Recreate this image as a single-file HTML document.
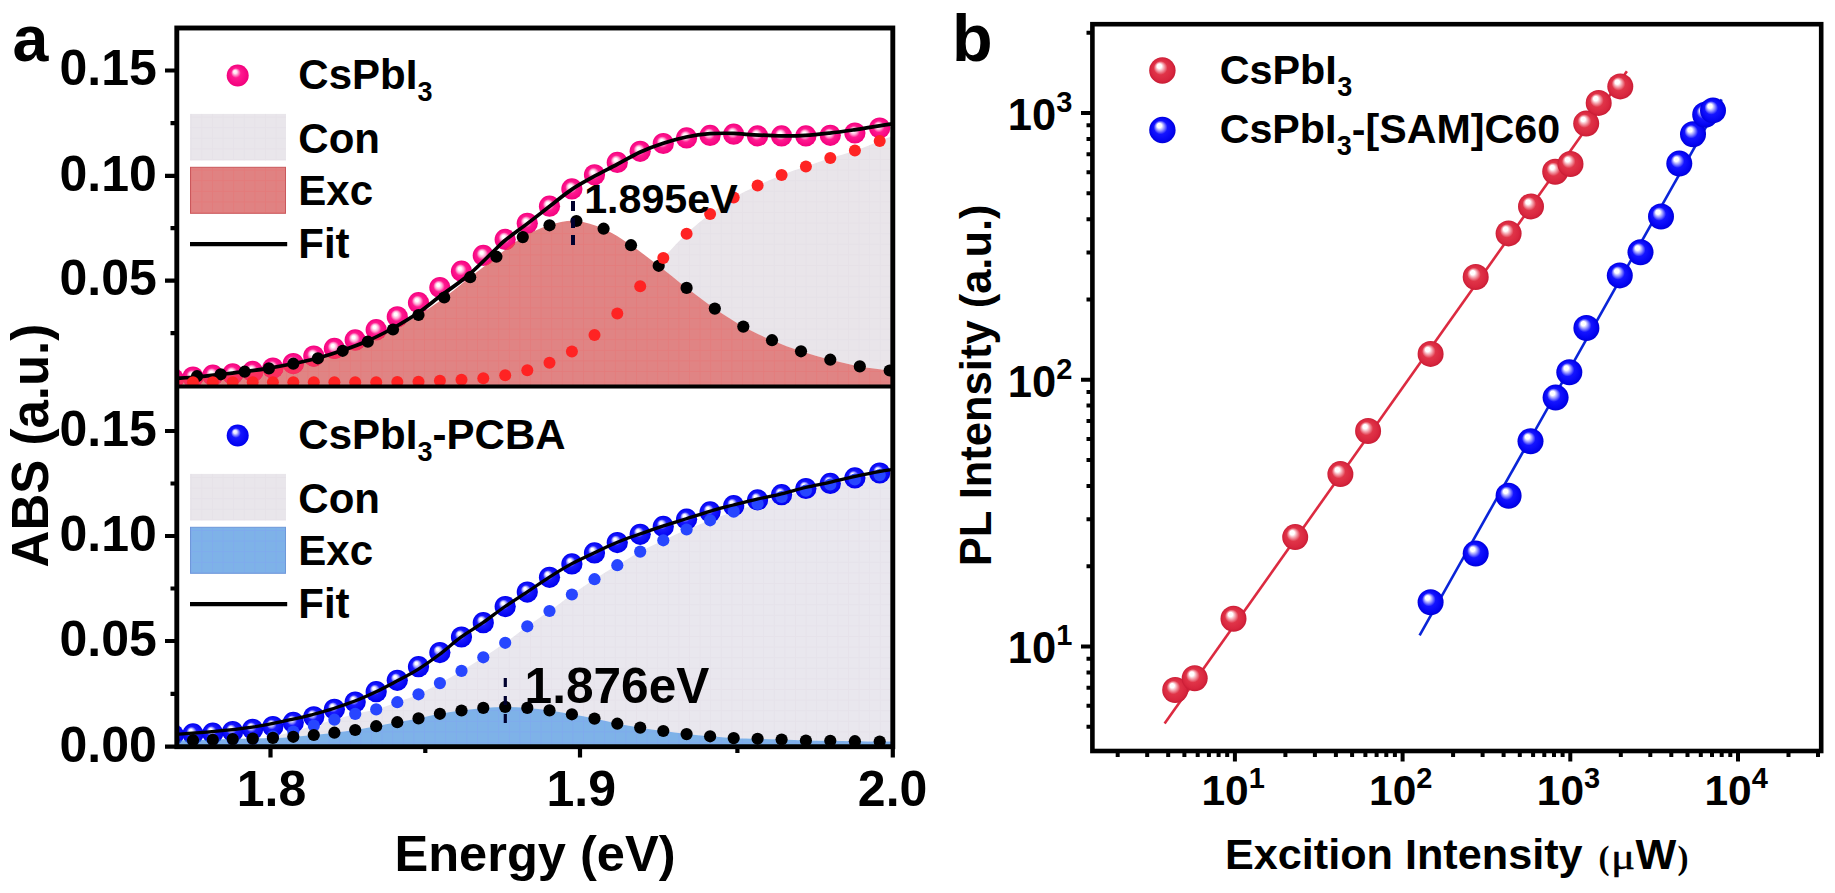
<!DOCTYPE html>
<html lang="en"><head><meta charset="utf-8"><title>Figure</title>
<style>html,body{margin:0;padding:0;background:#fff}body{width:1835px;height:893px;overflow:hidden}</style></head>
<body>
<svg width="1835" height="893" viewBox="0 0 1835 893" style="display:block;font-family:'Liberation Sans', sans-serif;font-weight:bold">
<defs>
<radialGradient id="gPinkD" cx="0.5" cy="0.5" r="0.5" fx="0.41" fy="0.36"><stop offset="0" stop-color="#fff"/><stop offset="0.14" stop-color="#fff"/><stop offset="0.34" stop-color="#ffa6d3"/><stop offset="0.54" stop-color="#ff1a90"/><stop offset="1" stop-color="#f4007e"/></radialGradient>
<radialGradient id="gPinkL" cx="0.5" cy="0.5" r="0.5" fx="0.36" fy="0.30"><stop offset="0" stop-color="#fff"/><stop offset="0.16" stop-color="#ffe4f1"/><stop offset="0.44" stop-color="#ff1a90"/><stop offset="1" stop-color="#f2007c"/></radialGradient>
<radialGradient id="gBlueD" cx="0.5" cy="0.5" r="0.5" fx="0.38" fy="0.32"><stop offset="0" stop-color="#fff"/><stop offset="0.12" stop-color="#fff"/><stop offset="0.30" stop-color="#a0a0ff"/><stop offset="0.48" stop-color="#1a1aff"/><stop offset="1" stop-color="#0000ee"/></radialGradient>
<radialGradient id="gBlueL" cx="0.5" cy="0.5" r="0.5" fx="0.36" fy="0.30"><stop offset="0" stop-color="#fff"/><stop offset="0.16" stop-color="#e2e2ff"/><stop offset="0.44" stop-color="#1616ff"/><stop offset="1" stop-color="#0000ee"/></radialGradient>
<radialGradient id="gRedB" cx="0.5" cy="0.5" r="0.5" fx="0.36" fy="0.30"><stop offset="0" stop-color="#fff"/><stop offset="0.17" stop-color="#fff"/><stop offset="0.32" stop-color="#f4a3ad"/><stop offset="0.52" stop-color="#e03448"/><stop offset="0.85" stop-color="#d8263e"/><stop offset="1" stop-color="#c81c34"/></radialGradient>
<radialGradient id="gBluB" cx="0.5" cy="0.5" r="0.5" fx="0.36" fy="0.30"><stop offset="0" stop-color="#fff"/><stop offset="0.17" stop-color="#fff"/><stop offset="0.32" stop-color="#9a9aff"/><stop offset="0.52" stop-color="#1414ff"/><stop offset="0.85" stop-color="#0404f2"/><stop offset="1" stop-color="#0000d8"/></radialGradient>
<pattern id="hR" width="10.6" height="10.6" patternUnits="userSpaceOnUse"><path d="M0 0.5H10.6M0.5 0V10.6" stroke="#f24b4b" stroke-width="1" opacity="0.14"/></pattern>
<pattern id="hG" width="10.6" height="10.6" patternUnits="userSpaceOnUse"><path d="M0 0.5H10.6M0.5 0V10.6" stroke="#dcd6e0" stroke-width="1" opacity="0.3"/></pattern>
<pattern id="hB" width="10.6" height="10.6" patternUnits="userSpaceOnUse"><path d="M0 0.5H10.6M0.5 0V10.6" stroke="#7f8cff" stroke-width="1" opacity="0.2"/></pattern>
<clipPath id="cTop"><rect x="176.8" y="28.0" width="716.0" height="358.5"/></clipPath>
<clipPath id="cBot"><rect x="176.8" y="386.5" width="716.0" height="360.2"/></clipPath>
</defs>
<rect width="1835" height="893" fill="#fff"/>
<g clip-path="url(#cTop)">
<path d="M170.0 382.3C190.5 382.3 258.5 382.3 292.8 382.3C327.1 382.3 357.7 382.3 375.6 382.2C393.5 382.1 392.9 382.0 400.0 381.9C407.1 381.8 411.7 381.9 418.3 381.7C424.9 381.5 432.5 381.1 439.6 380.8C446.8 380.5 454.0 380.2 461.2 379.8C468.4 379.4 475.7 379.0 483.0 378.2C490.3 377.4 497.7 376.5 505.0 375.2C512.3 373.9 519.5 372.5 526.9 370.4C534.3 368.3 542.0 365.9 549.5 362.8C557.0 359.7 564.2 356.3 571.7 351.7C579.2 347.1 586.6 341.6 594.2 335.3C601.8 329.0 609.4 321.9 617.1 313.7C624.8 305.4 632.8 295.1 640.5 285.8C648.2 276.5 655.7 266.6 663.4 257.9C671.1 249.2 679.1 240.8 686.9 233.4C694.7 226.1 702.6 219.8 710.4 213.8C718.2 207.8 726.1 202.1 733.9 197.4C741.7 192.7 749.4 189.4 757.4 185.7C765.4 181.9 773.5 178.1 781.6 174.9C789.7 171.7 798.0 169.3 806.1 166.5C814.2 163.7 822.1 160.8 830.3 158.1C838.5 155.4 847.2 153.2 855.5 150.4C863.8 147.6 872.6 143.9 880.0 141.0C887.4 138.1 896.7 134.3 900.0 133.0L900.0 386.5 L170.0 386.5 Z" fill="#e9e5ea"/><path d="M170.0 382.3C190.5 382.3 258.5 382.3 292.8 382.3C327.1 382.3 357.7 382.3 375.6 382.2C393.5 382.1 392.9 382.0 400.0 381.9C407.1 381.8 411.7 381.9 418.3 381.7C424.9 381.5 432.5 381.1 439.6 380.8C446.8 380.5 454.0 380.2 461.2 379.8C468.4 379.4 475.7 379.0 483.0 378.2C490.3 377.4 497.7 376.5 505.0 375.2C512.3 373.9 519.5 372.5 526.9 370.4C534.3 368.3 542.0 365.9 549.5 362.8C557.0 359.7 564.2 356.3 571.7 351.7C579.2 347.1 586.6 341.6 594.2 335.3C601.8 329.0 609.4 321.9 617.1 313.7C624.8 305.4 632.8 295.1 640.5 285.8C648.2 276.5 655.7 266.6 663.4 257.9C671.1 249.2 679.1 240.8 686.9 233.4C694.7 226.1 702.6 219.8 710.4 213.8C718.2 207.8 726.1 202.1 733.9 197.4C741.7 192.7 749.4 189.4 757.4 185.7C765.4 181.9 773.5 178.1 781.6 174.9C789.7 171.7 798.0 169.3 806.1 166.5C814.2 163.7 822.1 160.8 830.3 158.1C838.5 155.4 847.2 153.2 855.5 150.4C863.8 147.6 872.6 143.9 880.0 141.0C887.4 138.1 896.7 134.3 900.0 133.0L900.0 386.5 L170.0 386.5 Z" fill="url(#hG)"/>
<path d="M170.0 378.2C174.4 377.9 188.3 376.8 196.7 376.2C205.1 375.6 212.5 375.0 220.4 374.3C228.3 373.6 236.3 372.8 244.2 371.8C252.1 370.9 259.9 369.9 268.0 368.6C276.1 367.3 284.6 365.5 292.8 363.8C301.0 362.1 308.9 360.6 317.2 358.5C325.4 356.4 333.9 353.7 342.3 350.9C350.7 348.1 359.0 345.4 367.4 341.9C375.8 338.4 384.0 334.3 392.4 329.9C400.8 325.5 408.9 321.0 417.5 315.7C426.1 310.4 435.1 304.2 443.8 297.9C452.5 291.6 460.8 284.6 469.5 277.8C478.2 271.0 487.2 263.7 496.1 256.9C505.0 250.1 514.1 242.3 523.0 237.0C531.9 231.7 540.4 228.0 549.2 225.3C558.0 222.6 566.9 220.3 576.0 220.9C585.1 221.5 594.5 224.7 603.6 228.7C612.7 232.7 621.6 238.9 630.8 245.1C640.0 251.3 649.6 258.8 659.0 266.0C668.4 273.2 677.6 281.0 686.9 288.1C696.2 295.2 705.6 302.3 714.8 308.6C724.0 314.9 732.5 320.7 742.0 326.0C751.5 331.3 762.0 336.0 771.9 340.2C781.8 344.4 791.4 348.1 801.1 351.3C810.8 354.6 820.5 357.2 830.3 359.7C840.1 362.2 850.1 364.6 859.9 366.4C869.7 368.2 882.4 369.5 889.1 370.4C895.8 371.2 898.2 371.3 900.0 371.5L900.0 386.5 L170.0 386.5 Z" fill="#fff"/>
<circle cx="173.4" cy="378.7" r="10.6" fill="url(#gPinkD)"/>
<circle cx="193.0" cy="377.1" r="10.6" fill="url(#gPinkD)"/>
<circle cx="212.8" cy="375.2" r="10.6" fill="url(#gPinkD)"/>
<circle cx="232.7" cy="373.9" r="10.6" fill="url(#gPinkD)"/>
<circle cx="252.7" cy="371.4" r="10.6" fill="url(#gPinkD)"/>
<circle cx="272.9" cy="368.1" r="10.6" fill="url(#gPinkD)"/>
<circle cx="293.3" cy="363.6" r="10.6" fill="url(#gPinkD)"/>
<circle cx="313.8" cy="356.1" r="10.6" fill="url(#gPinkD)"/>
<circle cx="334.4" cy="348.4" r="10.6" fill="url(#gPinkD)"/>
<circle cx="355.2" cy="339.9" r="10.6" fill="url(#gPinkD)"/>
<circle cx="376.2" cy="329.7" r="10.6" fill="url(#gPinkD)"/>
<circle cx="397.3" cy="316.8" r="10.6" fill="url(#gPinkD)"/>
<circle cx="418.5" cy="302.7" r="10.6" fill="url(#gPinkD)"/>
<circle cx="439.9" cy="287.6" r="10.6" fill="url(#gPinkD)"/>
<circle cx="461.5" cy="271.2" r="10.6" fill="url(#gPinkD)"/>
<circle cx="483.3" cy="255.4" r="10.6" fill="url(#gPinkD)"/>
<circle cx="505.2" cy="239.4" r="10.6" fill="url(#gPinkD)"/>
<circle cx="527.3" cy="223.3" r="10.6" fill="url(#gPinkD)"/>
<circle cx="549.5" cy="206.2" r="10.6" fill="url(#gPinkD)"/>
<circle cx="571.9" cy="188.9" r="10.6" fill="url(#gPinkD)"/>
<circle cx="594.5" cy="174.8" r="10.6" fill="url(#gPinkD)"/>
<circle cx="617.3" cy="162.4" r="10.6" fill="url(#gPinkD)"/>
<circle cx="640.2" cy="151.3" r="10.6" fill="url(#gPinkD)"/>
<circle cx="663.3" cy="143.5" r="10.6" fill="url(#gPinkD)"/>
<circle cx="686.6" cy="137.9" r="10.6" fill="url(#gPinkD)"/>
<circle cx="710.1" cy="135.4" r="10.6" fill="url(#gPinkD)"/>
<circle cx="733.7" cy="134.2" r="10.6" fill="url(#gPinkD)"/>
<circle cx="757.6" cy="135.9" r="10.6" fill="url(#gPinkD)"/>
<circle cx="781.6" cy="135.9" r="10.6" fill="url(#gPinkD)"/>
<circle cx="805.9" cy="135.9" r="10.6" fill="url(#gPinkD)"/>
<circle cx="830.3" cy="135.3" r="10.6" fill="url(#gPinkD)"/>
<circle cx="854.9" cy="133.0" r="10.6" fill="url(#gPinkD)"/>
<circle cx="879.7" cy="128.1" r="10.6" fill="url(#gPinkD)"/>
<path d="M170.0 378.2C174.4 377.9 188.3 376.8 196.7 376.2C205.1 375.6 212.5 375.0 220.4 374.3C228.3 373.6 236.3 372.8 244.2 371.8C252.1 370.9 259.9 369.9 268.0 368.6C276.1 367.3 284.6 365.5 292.8 363.8C301.0 362.1 308.9 360.6 317.2 358.5C325.4 356.4 333.9 353.7 342.3 350.9C350.7 348.1 359.0 345.4 367.4 341.9C375.8 338.4 384.0 334.3 392.4 329.9C400.8 325.5 408.9 321.0 417.5 315.7C426.1 310.4 435.1 304.2 443.8 297.9C452.5 291.6 460.8 284.6 469.5 277.8C478.2 271.0 487.2 263.7 496.1 256.9C505.0 250.1 514.1 242.3 523.0 237.0C531.9 231.7 540.4 228.0 549.2 225.3C558.0 222.6 566.9 220.3 576.0 220.9C585.1 221.5 594.5 224.7 603.6 228.7C612.7 232.7 621.6 238.9 630.8 245.1C640.0 251.3 649.6 258.8 659.0 266.0C668.4 273.2 677.6 281.0 686.9 288.1C696.2 295.2 705.6 302.3 714.8 308.6C724.0 314.9 732.5 320.7 742.0 326.0C751.5 331.3 762.0 336.0 771.9 340.2C781.8 344.4 791.4 348.1 801.1 351.3C810.8 354.6 820.5 357.2 830.3 359.7C840.1 362.2 850.1 364.6 859.9 366.4C869.7 368.2 882.4 369.5 889.1 370.4C895.8 371.2 898.2 371.3 900.0 371.5L900.0 386.5 L170.0 386.5 Z" fill="#cb3232" fill-opacity="0.60"/><path d="M170.0 378.2C174.4 377.9 188.3 376.8 196.7 376.2C205.1 375.6 212.5 375.0 220.4 374.3C228.3 373.6 236.3 372.8 244.2 371.8C252.1 370.9 259.9 369.9 268.0 368.6C276.1 367.3 284.6 365.5 292.8 363.8C301.0 362.1 308.9 360.6 317.2 358.5C325.4 356.4 333.9 353.7 342.3 350.9C350.7 348.1 359.0 345.4 367.4 341.9C375.8 338.4 384.0 334.3 392.4 329.9C400.8 325.5 408.9 321.0 417.5 315.7C426.1 310.4 435.1 304.2 443.8 297.9C452.5 291.6 460.8 284.6 469.5 277.8C478.2 271.0 487.2 263.7 496.1 256.9C505.0 250.1 514.1 242.3 523.0 237.0C531.9 231.7 540.4 228.0 549.2 225.3C558.0 222.6 566.9 220.3 576.0 220.9C585.1 221.5 594.5 224.7 603.6 228.7C612.7 232.7 621.6 238.9 630.8 245.1C640.0 251.3 649.6 258.8 659.0 266.0C668.4 273.2 677.6 281.0 686.9 288.1C696.2 295.2 705.6 302.3 714.8 308.6C724.0 314.9 732.5 320.7 742.0 326.0C751.5 331.3 762.0 336.0 771.9 340.2C781.8 344.4 791.4 348.1 801.1 351.3C810.8 354.6 820.5 357.2 830.3 359.7C840.1 362.2 850.1 364.6 859.9 366.4C869.7 368.2 882.4 369.5 889.1 370.4C895.8 371.2 898.2 371.3 900.0 371.5L900.0 386.5 L170.0 386.5 Z" fill="url(#hR)"/>
<clipPath id="cExcT"><path d="M170.0 378.2C174.4 377.9 188.3 376.8 196.7 376.2C205.1 375.6 212.5 375.0 220.4 374.3C228.3 373.6 236.3 372.8 244.2 371.8C252.1 370.9 259.9 369.9 268.0 368.6C276.1 367.3 284.6 365.5 292.8 363.8C301.0 362.1 308.9 360.6 317.2 358.5C325.4 356.4 333.9 353.7 342.3 350.9C350.7 348.1 359.0 345.4 367.4 341.9C375.8 338.4 384.0 334.3 392.4 329.9C400.8 325.5 408.9 321.0 417.5 315.7C426.1 310.4 435.1 304.2 443.8 297.9C452.5 291.6 460.8 284.6 469.5 277.8C478.2 271.0 487.2 263.7 496.1 256.9C505.0 250.1 514.1 242.3 523.0 237.0C531.9 231.7 540.4 228.0 549.2 225.3C558.0 222.6 566.9 220.3 576.0 220.9C585.1 221.5 594.5 224.7 603.6 228.7C612.7 232.7 621.6 238.9 630.8 245.1C640.0 251.3 649.6 258.8 659.0 266.0C668.4 273.2 677.6 281.0 686.9 288.1C696.2 295.2 705.6 302.3 714.8 308.6C724.0 314.9 732.5 320.7 742.0 326.0C751.5 331.3 762.0 336.0 771.9 340.2C781.8 344.4 791.4 348.1 801.1 351.3C810.8 354.6 820.5 357.2 830.3 359.7C840.1 362.2 850.1 364.6 859.9 366.4C869.7 368.2 882.4 369.5 889.1 370.4C895.8 371.2 898.2 371.3 900.0 371.5L900.0 386.5 L170.0 386.5 Z"/></clipPath><g clip-path="url(#cExcT)">
<circle cx="173.4" cy="378.7" r="10.6" fill="#ff3060" fill-opacity="0.85"/>
<circle cx="193.0" cy="377.1" r="10.6" fill="#ff3060" fill-opacity="0.85"/>
<circle cx="212.8" cy="375.2" r="10.6" fill="#ff3060" fill-opacity="0.85"/>
<circle cx="232.7" cy="373.9" r="10.6" fill="#ff3060" fill-opacity="0.85"/>
<circle cx="252.7" cy="371.4" r="10.6" fill="#ff3060" fill-opacity="0.85"/>
<circle cx="272.9" cy="368.1" r="10.6" fill="#ff3060" fill-opacity="0.85"/>
<circle cx="293.3" cy="363.6" r="10.6" fill="#ff3060" fill-opacity="0.85"/>
<circle cx="313.8" cy="356.1" r="10.6" fill="#ff3060" fill-opacity="0.85"/>
<circle cx="334.4" cy="348.4" r="10.6" fill="#ff3060" fill-opacity="0.85"/>
<circle cx="355.2" cy="339.9" r="10.6" fill="#ff3060" fill-opacity="0.85"/>
<circle cx="376.2" cy="329.7" r="10.6" fill="#ff3060" fill-opacity="0.85"/>
<circle cx="397.3" cy="316.8" r="10.6" fill="#ff3060" fill-opacity="0.85"/>
<circle cx="418.5" cy="302.7" r="10.6" fill="#ff3060" fill-opacity="0.85"/>
<circle cx="439.9" cy="287.6" r="10.6" fill="#ff3060" fill-opacity="0.85"/>
<circle cx="461.5" cy="271.2" r="10.6" fill="#ff3060" fill-opacity="0.85"/>
<circle cx="483.3" cy="255.4" r="10.6" fill="#ff3060" fill-opacity="0.85"/>
<circle cx="505.2" cy="239.4" r="10.6" fill="#ff3060" fill-opacity="0.85"/>
</g>
<path d="M174.0 378.6C177.7 378.3 188.7 377.7 196.3 377.0C203.9 376.3 211.8 375.4 219.8 374.5C227.8 373.6 236.4 372.7 244.4 371.7C252.4 370.7 259.9 369.6 267.9 368.3C275.9 367.0 284.4 365.5 292.6 363.8C300.8 362.1 308.9 360.4 317.2 358.2C325.5 356.0 333.9 353.4 342.3 350.5C350.7 347.6 359.0 344.7 367.4 341.0C375.8 337.3 384.0 333.1 392.4 328.5C400.8 323.9 409.6 318.7 417.5 313.3C425.4 307.9 431.6 302.6 440.0 296.3C448.4 290.0 458.9 283.2 468.0 275.5C477.1 267.8 488.7 255.8 494.8 250.0C500.9 244.2 499.5 244.9 504.9 240.5C510.3 236.1 519.8 229.3 527.3 223.6C534.8 217.9 542.3 212.0 549.7 206.3C557.1 200.6 564.0 194.6 571.5 189.6C579.0 184.6 586.9 180.4 594.5 176.2C602.1 172.0 609.4 168.5 616.9 164.5C624.4 160.5 632.1 155.8 639.8 152.2C647.5 148.6 655.5 145.7 663.3 143.2C671.0 140.7 678.5 138.6 686.3 137.0C694.0 135.4 701.9 134.3 709.8 133.7C717.7 133.1 727.2 133.2 733.9 133.4C740.6 133.6 742.1 134.2 750.0 134.6C757.9 135.0 772.1 135.8 781.4 135.9C790.6 136.0 797.5 135.9 805.5 135.4C813.5 134.9 821.5 134.0 829.6 133.1C837.7 132.2 845.9 131.0 854.2 129.8C862.5 128.6 872.6 126.9 879.4 125.8C886.2 124.7 892.4 123.8 895.0 123.4" fill="none" stroke="#000" stroke-width="3.7"/>
<circle cx="889.7" cy="370.5" r="6.1" fill="#000"/>
<circle cx="859.8" cy="366.4" r="6.1" fill="#000"/>
<circle cx="830.3" cy="359.7" r="6.1" fill="#000"/>
<circle cx="801.0" cy="351.3" r="6.1" fill="#000"/>
<circle cx="772.0" cy="340.2" r="6.1" fill="#000"/>
<circle cx="743.3" cy="326.6" r="6.1" fill="#000"/>
<circle cx="714.8" cy="308.6" r="6.1" fill="#000"/>
<circle cx="686.6" cy="287.9" r="6.1" fill="#000"/>
<circle cx="658.7" cy="265.8" r="6.1" fill="#000"/>
<circle cx="631.0" cy="245.2" r="6.1" fill="#000"/>
<circle cx="603.6" cy="228.7" r="6.1" fill="#000"/>
<circle cx="576.4" cy="221.0" r="6.1" fill="#000"/>
<circle cx="549.5" cy="225.3" r="6.1" fill="#000"/>
<circle cx="522.8" cy="237.1" r="6.1" fill="#000"/>
<circle cx="496.4" cy="256.7" r="6.1" fill="#000"/>
<circle cx="470.2" cy="277.2" r="6.1" fill="#000"/>
<circle cx="444.2" cy="297.5" r="6.1" fill="#000"/>
<circle cx="418.5" cy="315.0" r="6.1" fill="#000"/>
<circle cx="393.0" cy="329.5" r="6.1" fill="#000"/>
<circle cx="367.8" cy="341.7" r="6.1" fill="#000"/>
<circle cx="342.7" cy="350.8" r="6.1" fill="#000"/>
<circle cx="317.9" cy="358.3" r="6.1" fill="#000"/>
<circle cx="293.3" cy="363.7" r="6.1" fill="#000"/>
<circle cx="268.9" cy="368.4" r="6.1" fill="#000"/>
<circle cx="244.7" cy="371.7" r="6.1" fill="#000"/>
<circle cx="220.7" cy="374.3" r="6.1" fill="#000"/>
<circle cx="197.0" cy="376.2" r="6.1" fill="#000"/>
<circle cx="173.4" cy="377.9" r="6.1" fill="#000"/>
<circle cx="879.7" cy="141.1" r="6" fill="#ff2323"/>
<circle cx="854.9" cy="150.6" r="6" fill="#ff2323"/>
<circle cx="830.3" cy="158.1" r="6" fill="#ff2323"/>
<circle cx="805.9" cy="166.6" r="6" fill="#ff2323"/>
<circle cx="781.6" cy="174.9" r="6" fill="#ff2323"/>
<circle cx="757.6" cy="185.6" r="6" fill="#ff2323"/>
<circle cx="733.7" cy="197.5" r="6" fill="#ff2323"/>
<circle cx="710.1" cy="214.1" r="6" fill="#ff2323"/>
<circle cx="686.6" cy="233.7" r="6" fill="#ff2323"/>
<circle cx="663.3" cy="258.0" r="6" fill="#ff2323"/>
<circle cx="640.2" cy="286.2" r="6" fill="#ff2323"/>
<circle cx="617.3" cy="313.5" r="6" fill="#ff2323"/>
<circle cx="594.5" cy="335.0" r="6" fill="#ff2323"/>
<circle cx="571.9" cy="351.5" r="6" fill="#ff2323"/>
<circle cx="549.5" cy="362.8" r="6" fill="#ff2323"/>
<circle cx="527.3" cy="370.3" r="6" fill="#ff2323"/>
<circle cx="505.2" cy="375.2" r="6" fill="#ff2323"/>
<circle cx="483.3" cy="378.2" r="6" fill="#ff2323"/>
<circle cx="461.5" cy="379.8" r="6" fill="#ff2323"/>
<circle cx="439.9" cy="380.8" r="6" fill="#ff2323"/>
<circle cx="418.5" cy="381.7" r="6" fill="#ff2323"/>
<circle cx="397.3" cy="381.9" r="6" fill="#ff2323"/>
<circle cx="376.2" cy="382.2" r="6" fill="#ff2323"/>
<circle cx="355.2" cy="382.2" r="6" fill="#ff2323"/>
<circle cx="334.4" cy="382.2" r="6" fill="#ff2323"/>
<circle cx="313.8" cy="382.3" r="6" fill="#ff2323"/>
<circle cx="293.3" cy="382.3" r="6" fill="#ff2323"/>
<circle cx="272.9" cy="382.3" r="6" fill="#ff2323"/>
<circle cx="252.7" cy="382.3" r="6" fill="#ff2323"/>
<circle cx="232.7" cy="382.3" r="6" fill="#ff2323"/>
<circle cx="212.8" cy="382.3" r="6" fill="#ff2323"/>
<circle cx="193.0" cy="382.3" r="6" fill="#ff2323"/>
<circle cx="173.4" cy="382.3" r="6" fill="#ff2323"/>
</g>
<path d="M573 201V249" stroke="#00002e" stroke-width="4" stroke-dasharray="10 7" fill="none"/>
<text x="584.2" y="213.3" font-size="41.2">1.895eV</text>
<g clip-path="url(#cBot)">
<path d="M170.0 741.0C183.6 740.7 234.7 739.8 251.7 739.0C268.7 738.2 265.2 737.7 271.9 736.5C278.6 735.3 285.3 733.8 292.0 732.0C298.7 730.2 305.3 728.0 312.2 726.0C319.1 724.0 326.3 722.0 333.4 720.0C340.5 718.0 347.6 715.8 354.7 714.0C361.8 712.2 368.9 711.5 376.0 709.5C383.1 707.5 390.1 704.7 397.2 702.2C404.3 699.7 411.4 697.5 418.5 694.3C425.6 691.1 432.7 687.1 439.8 683.2C446.9 679.4 453.8 675.5 461.0 671.2C468.2 666.9 475.7 662.2 483.0 657.5C490.3 652.8 497.4 648.3 504.8 643.1C512.2 637.9 519.9 631.6 527.3 626.3C534.7 621.0 541.8 616.5 549.2 611.2C556.7 605.9 564.5 599.7 572.0 594.4C579.5 589.1 586.9 584.1 594.5 579.2C602.1 574.3 609.7 569.7 617.4 565.1C625.1 560.5 632.8 555.5 640.5 551.4C648.2 547.3 655.7 544.0 663.4 540.3C671.1 536.6 679.1 532.8 686.9 529.4C694.7 526.0 702.6 523.2 710.4 520.2C718.2 517.2 726.1 514.2 733.9 511.5C741.7 508.8 749.4 506.4 757.4 504.0C765.4 501.6 773.5 499.2 781.6 497.0C789.7 494.8 798.0 492.6 806.1 490.5C814.2 488.4 822.2 486.3 830.3 484.5C838.4 482.7 846.5 481.1 854.8 479.5C863.1 477.9 872.5 476.2 880.0 475.0C887.5 473.8 896.7 472.5 900.0 472.0L900.0 746.7 L170.0 746.7 Z" fill="#e9e7ee"/><path d="M170.0 741.0C183.6 740.7 234.7 739.8 251.7 739.0C268.7 738.2 265.2 737.7 271.9 736.5C278.6 735.3 285.3 733.8 292.0 732.0C298.7 730.2 305.3 728.0 312.2 726.0C319.1 724.0 326.3 722.0 333.4 720.0C340.5 718.0 347.6 715.8 354.7 714.0C361.8 712.2 368.9 711.5 376.0 709.5C383.1 707.5 390.1 704.7 397.2 702.2C404.3 699.7 411.4 697.5 418.5 694.3C425.6 691.1 432.7 687.1 439.8 683.2C446.9 679.4 453.8 675.5 461.0 671.2C468.2 666.9 475.7 662.2 483.0 657.5C490.3 652.8 497.4 648.3 504.8 643.1C512.2 637.9 519.9 631.6 527.3 626.3C534.7 621.0 541.8 616.5 549.2 611.2C556.7 605.9 564.5 599.7 572.0 594.4C579.5 589.1 586.9 584.1 594.5 579.2C602.1 574.3 609.7 569.7 617.4 565.1C625.1 560.5 632.8 555.5 640.5 551.4C648.2 547.3 655.7 544.0 663.4 540.3C671.1 536.6 679.1 532.8 686.9 529.4C694.7 526.0 702.6 523.2 710.4 520.2C718.2 517.2 726.1 514.2 733.9 511.5C741.7 508.8 749.4 506.4 757.4 504.0C765.4 501.6 773.5 499.2 781.6 497.0C789.7 494.8 798.0 492.6 806.1 490.5C814.2 488.4 822.2 486.3 830.3 484.5C838.4 482.7 846.5 481.1 854.8 479.5C863.1 477.9 872.5 476.2 880.0 475.0C887.5 473.8 896.7 472.5 900.0 472.0L900.0 746.7 L170.0 746.7 Z" fill="url(#hG)"/>
<path d="M170.0 740.6C173.7 740.5 185.3 740.3 192.4 740.2C199.5 740.1 206.0 740.0 212.5 739.8C219.0 739.6 225.1 739.3 231.6 739.1C238.1 738.9 245.0 738.8 251.7 738.6C258.4 738.4 265.1 738.3 271.9 738.0C278.7 737.7 285.8 737.4 292.7 736.9C299.6 736.4 306.4 735.8 313.3 735.1C320.2 734.4 327.0 733.6 333.9 732.8C340.8 732.0 347.8 731.2 354.7 730.1C361.6 729.0 368.5 727.6 375.5 726.3C382.5 725.0 389.7 723.6 396.8 722.3C403.9 721.0 410.8 719.9 418.0 718.5C425.2 717.1 432.6 715.1 439.8 713.8C447.0 712.5 453.8 711.6 461.0 710.6C468.2 709.6 475.7 708.5 483.0 707.9C490.3 707.3 497.4 706.9 504.8 706.9C512.2 706.9 519.9 707.3 527.3 707.9C534.7 708.5 541.8 709.2 549.2 710.3C556.7 711.4 564.5 712.9 572.0 714.3C579.5 715.7 586.9 717.0 594.5 718.6C602.1 720.2 609.7 722.2 617.4 723.7C625.1 725.2 632.9 726.5 640.5 727.7C648.1 728.9 655.5 729.9 663.2 731.0C670.9 732.1 678.8 733.2 686.6 734.1C694.4 735.0 702.0 735.6 710.0 736.3C718.0 737.0 726.6 737.8 734.5 738.2C742.4 738.6 749.5 738.6 757.4 738.8C765.2 739.0 773.5 739.2 781.6 739.5C789.7 739.8 798.0 740.3 806.1 740.5C814.2 740.7 822.2 740.7 830.3 740.8C838.4 740.9 846.5 741.1 854.8 741.2C863.1 741.3 872.5 741.4 880.0 741.5C887.5 741.6 896.7 741.7 900.0 741.7L900.0 746.7 L170.0 746.7 Z" fill="#fff"/>
<circle cx="173.4" cy="734.8" r="10.6" fill="url(#gBlueD)"/>
<circle cx="193.0" cy="733.9" r="10.6" fill="url(#gBlueD)"/>
<circle cx="212.8" cy="733.2" r="10.6" fill="url(#gBlueD)"/>
<circle cx="232.7" cy="731.5" r="10.6" fill="url(#gBlueD)"/>
<circle cx="252.7" cy="729.3" r="10.6" fill="url(#gBlueD)"/>
<circle cx="272.9" cy="726.5" r="10.6" fill="url(#gBlueD)"/>
<circle cx="293.3" cy="722.4" r="10.6" fill="url(#gBlueD)"/>
<circle cx="313.8" cy="716.8" r="10.6" fill="url(#gBlueD)"/>
<circle cx="334.4" cy="709.3" r="10.6" fill="url(#gBlueD)"/>
<circle cx="355.2" cy="702.1" r="10.6" fill="url(#gBlueD)"/>
<circle cx="376.2" cy="691.7" r="10.6" fill="url(#gBlueD)"/>
<circle cx="397.3" cy="680.3" r="10.6" fill="url(#gBlueD)"/>
<circle cx="418.5" cy="666.7" r="10.6" fill="url(#gBlueD)"/>
<circle cx="439.9" cy="652.6" r="10.6" fill="url(#gBlueD)"/>
<circle cx="461.5" cy="637.0" r="10.6" fill="url(#gBlueD)"/>
<circle cx="483.3" cy="622.7" r="10.6" fill="url(#gBlueD)"/>
<circle cx="505.2" cy="606.6" r="10.6" fill="url(#gBlueD)"/>
<circle cx="527.3" cy="592.1" r="10.6" fill="url(#gBlueD)"/>
<circle cx="549.5" cy="577.3" r="10.6" fill="url(#gBlueD)"/>
<circle cx="571.9" cy="563.9" r="10.6" fill="url(#gBlueD)"/>
<circle cx="594.5" cy="552.9" r="10.6" fill="url(#gBlueD)"/>
<circle cx="617.3" cy="542.6" r="10.6" fill="url(#gBlueD)"/>
<circle cx="640.2" cy="534.3" r="10.6" fill="url(#gBlueD)"/>
<circle cx="663.3" cy="526.4" r="10.6" fill="url(#gBlueD)"/>
<circle cx="686.6" cy="519.2" r="10.6" fill="url(#gBlueD)"/>
<circle cx="710.1" cy="511.9" r="10.6" fill="url(#gBlueD)"/>
<circle cx="733.7" cy="505.7" r="10.6" fill="url(#gBlueD)"/>
<circle cx="757.6" cy="499.9" r="10.6" fill="url(#gBlueD)"/>
<circle cx="781.6" cy="494.7" r="10.6" fill="url(#gBlueD)"/>
<circle cx="805.9" cy="488.5" r="10.6" fill="url(#gBlueD)"/>
<circle cx="830.3" cy="483.4" r="10.6" fill="url(#gBlueD)"/>
<circle cx="854.9" cy="477.9" r="10.6" fill="url(#gBlueD)"/>
<circle cx="879.7" cy="473.0" r="10.6" fill="url(#gBlueD)"/>
<path d="M170.0 740.6C173.7 740.5 185.3 740.3 192.4 740.2C199.5 740.1 206.0 740.0 212.5 739.8C219.0 739.6 225.1 739.3 231.6 739.1C238.1 738.9 245.0 738.8 251.7 738.6C258.4 738.4 265.1 738.3 271.9 738.0C278.7 737.7 285.8 737.4 292.7 736.9C299.6 736.4 306.4 735.8 313.3 735.1C320.2 734.4 327.0 733.6 333.9 732.8C340.8 732.0 347.8 731.2 354.7 730.1C361.6 729.0 368.5 727.6 375.5 726.3C382.5 725.0 389.7 723.6 396.8 722.3C403.9 721.0 410.8 719.9 418.0 718.5C425.2 717.1 432.6 715.1 439.8 713.8C447.0 712.5 453.8 711.6 461.0 710.6C468.2 709.6 475.7 708.5 483.0 707.9C490.3 707.3 497.4 706.9 504.8 706.9C512.2 706.9 519.9 707.3 527.3 707.9C534.7 708.5 541.8 709.2 549.2 710.3C556.7 711.4 564.5 712.9 572.0 714.3C579.5 715.7 586.9 717.0 594.5 718.6C602.1 720.2 609.7 722.2 617.4 723.7C625.1 725.2 632.9 726.5 640.5 727.7C648.1 728.9 655.5 729.9 663.2 731.0C670.9 732.1 678.8 733.2 686.6 734.1C694.4 735.0 702.0 735.6 710.0 736.3C718.0 737.0 726.6 737.8 734.5 738.2C742.4 738.6 749.5 738.6 757.4 738.8C765.2 739.0 773.5 739.2 781.6 739.5C789.7 739.8 798.0 740.3 806.1 740.5C814.2 740.7 822.2 740.7 830.3 740.8C838.4 740.9 846.5 741.1 854.8 741.2C863.1 741.3 872.5 741.4 880.0 741.5C887.5 741.6 896.7 741.7 900.0 741.7L900.0 746.7 L170.0 746.7 Z" fill="#287fd9" fill-opacity="0.60"/><path d="M170.0 740.6C173.7 740.5 185.3 740.3 192.4 740.2C199.5 740.1 206.0 740.0 212.5 739.8C219.0 739.6 225.1 739.3 231.6 739.1C238.1 738.9 245.0 738.8 251.7 738.6C258.4 738.4 265.1 738.3 271.9 738.0C278.7 737.7 285.8 737.4 292.7 736.9C299.6 736.4 306.4 735.8 313.3 735.1C320.2 734.4 327.0 733.6 333.9 732.8C340.8 732.0 347.8 731.2 354.7 730.1C361.6 729.0 368.5 727.6 375.5 726.3C382.5 725.0 389.7 723.6 396.8 722.3C403.9 721.0 410.8 719.9 418.0 718.5C425.2 717.1 432.6 715.1 439.8 713.8C447.0 712.5 453.8 711.6 461.0 710.6C468.2 709.6 475.7 708.5 483.0 707.9C490.3 707.3 497.4 706.9 504.8 706.9C512.2 706.9 519.9 707.3 527.3 707.9C534.7 708.5 541.8 709.2 549.2 710.3C556.7 711.4 564.5 712.9 572.0 714.3C579.5 715.7 586.9 717.0 594.5 718.6C602.1 720.2 609.7 722.2 617.4 723.7C625.1 725.2 632.9 726.5 640.5 727.7C648.1 728.9 655.5 729.9 663.2 731.0C670.9 732.1 678.8 733.2 686.6 734.1C694.4 735.0 702.0 735.6 710.0 736.3C718.0 737.0 726.6 737.8 734.5 738.2C742.4 738.6 749.5 738.6 757.4 738.8C765.2 739.0 773.5 739.2 781.6 739.5C789.7 739.8 798.0 740.3 806.1 740.5C814.2 740.7 822.2 740.7 830.3 740.8C838.4 740.9 846.5 741.1 854.8 741.2C863.1 741.3 872.5 741.4 880.0 741.5C887.5 741.6 896.7 741.7 900.0 741.7L900.0 746.7 L170.0 746.7 Z" fill="url(#hB)"/>
<circle cx="879.7" cy="475.1" r="6.1" fill="#2746ff"/>
<circle cx="854.9" cy="479.5" r="6.1" fill="#2746ff"/>
<circle cx="830.3" cy="484.5" r="6.1" fill="#2746ff"/>
<circle cx="805.9" cy="490.6" r="6.1" fill="#2746ff"/>
<circle cx="781.6" cy="497.0" r="6.1" fill="#2746ff"/>
<circle cx="757.6" cy="503.9" r="6.1" fill="#2746ff"/>
<circle cx="733.7" cy="511.6" r="6.1" fill="#2746ff"/>
<circle cx="710.1" cy="520.3" r="6.1" fill="#2746ff"/>
<circle cx="686.6" cy="529.5" r="6.1" fill="#2746ff"/>
<circle cx="663.3" cy="540.3" r="6.1" fill="#2746ff"/>
<circle cx="640.2" cy="551.6" r="6.1" fill="#2746ff"/>
<circle cx="617.3" cy="565.2" r="6.1" fill="#2746ff"/>
<circle cx="594.5" cy="579.2" r="6.1" fill="#2746ff"/>
<circle cx="571.9" cy="594.5" r="6.1" fill="#2746ff"/>
<circle cx="549.5" cy="611.0" r="6.1" fill="#2746ff"/>
<circle cx="527.3" cy="626.3" r="6.1" fill="#2746ff"/>
<circle cx="505.2" cy="642.8" r="6.1" fill="#2746ff"/>
<circle cx="483.3" cy="657.3" r="6.1" fill="#2746ff"/>
<circle cx="461.5" cy="670.9" r="6.1" fill="#2746ff"/>
<circle cx="439.9" cy="683.1" r="6.1" fill="#2746ff"/>
<circle cx="418.5" cy="694.3" r="6.1" fill="#2746ff"/>
<circle cx="397.3" cy="702.2" r="6.1" fill="#2746ff"/>
<circle cx="376.2" cy="709.4" r="6.1" fill="#2746ff"/>
<circle cx="355.2" cy="713.9" r="6.1" fill="#2746ff"/>
<circle cx="334.4" cy="719.7" r="6.1" fill="#2746ff"/>
<circle cx="313.8" cy="725.6" r="6.1" fill="#2746ff"/>
<circle cx="293.3" cy="731.6" r="6.1" fill="#2746ff"/>
<circle cx="272.9" cy="736.3" r="6.1" fill="#2746ff"/>
<circle cx="252.7" cy="738.9" r="6.1" fill="#2746ff"/>
<circle cx="232.7" cy="739.5" r="6.1" fill="#2746ff"/>
<circle cx="212.8" cy="740.0" r="6.1" fill="#2746ff"/>
<circle cx="193.0" cy="740.4" r="6.1" fill="#2746ff"/>
<circle cx="173.4" cy="740.9" r="6.1" fill="#2746ff"/>
<path d="M174.0 734.6C180.3 734.1 198.9 732.9 212.0 731.7C225.1 730.5 239.0 729.2 252.3 727.2C265.6 725.2 281.9 721.5 292.0 719.4C302.1 717.3 305.8 716.3 312.7 714.5C319.6 712.7 326.6 710.8 333.6 708.5C340.6 706.2 347.8 703.8 354.9 701.0C362.0 698.2 369.1 695.0 376.1 691.7C383.1 688.4 389.9 684.7 396.9 681.0C403.9 677.3 411.0 673.7 418.1 669.3C425.2 664.9 432.3 659.8 439.4 654.5C446.5 649.2 453.3 642.7 460.6 637.4C467.9 632.1 475.7 627.8 483.0 622.7C490.3 617.6 496.9 612.1 504.3 607.0C511.7 601.9 519.8 596.9 527.3 591.9C534.8 586.9 541.7 582.0 549.1 577.3C556.5 572.6 563.9 568.0 571.5 563.9C579.1 559.8 587.0 556.3 594.5 552.7C602.0 549.1 609.2 545.6 616.8 542.5C624.3 539.4 632.1 536.8 639.8 534.0C647.4 531.3 655.0 528.7 662.7 526.1C670.4 523.6 678.4 521.2 686.2 518.7C694.0 516.3 701.9 513.6 709.7 511.3C717.6 509.0 725.4 507.1 733.3 505.0C741.2 503.0 749.0 501.0 757.0 499.1C765.0 497.3 773.3 495.8 781.4 493.8C789.5 491.9 797.5 489.4 805.5 487.5C813.5 485.6 821.5 484.2 829.6 482.4C837.7 480.6 846.0 478.5 854.2 476.7C862.4 474.9 872.1 472.8 878.9 471.6C885.7 470.4 892.3 469.7 895.0 469.3" fill="none" stroke="#000" stroke-width="3.3"/>
<circle cx="879.7" cy="741.5" r="6.1" fill="#000"/>
<circle cx="854.9" cy="741.2" r="6.1" fill="#000"/>
<circle cx="830.3" cy="740.8" r="6.1" fill="#000"/>
<circle cx="805.9" cy="740.5" r="6.1" fill="#000"/>
<circle cx="781.6" cy="739.5" r="6.1" fill="#000"/>
<circle cx="757.6" cy="738.8" r="6.1" fill="#000"/>
<circle cx="733.7" cy="738.1" r="6.1" fill="#000"/>
<circle cx="710.1" cy="736.3" r="6.1" fill="#000"/>
<circle cx="686.6" cy="734.1" r="6.1" fill="#000"/>
<circle cx="663.3" cy="731.0" r="6.1" fill="#000"/>
<circle cx="640.2" cy="727.6" r="6.1" fill="#000"/>
<circle cx="617.3" cy="723.7" r="6.1" fill="#000"/>
<circle cx="594.5" cy="718.6" r="6.1" fill="#000"/>
<circle cx="571.9" cy="714.3" r="6.1" fill="#000"/>
<circle cx="549.5" cy="710.4" r="6.1" fill="#000"/>
<circle cx="527.3" cy="707.9" r="6.1" fill="#000"/>
<circle cx="505.2" cy="706.9" r="6.1" fill="#000"/>
<circle cx="483.3" cy="707.9" r="6.1" fill="#000"/>
<circle cx="461.5" cy="710.5" r="6.1" fill="#000"/>
<circle cx="439.9" cy="713.8" r="6.1" fill="#000"/>
<circle cx="418.5" cy="718.4" r="6.1" fill="#000"/>
<circle cx="397.3" cy="722.2" r="6.1" fill="#000"/>
<circle cx="376.2" cy="726.2" r="6.1" fill="#000"/>
<circle cx="355.2" cy="730.0" r="6.1" fill="#000"/>
<circle cx="334.4" cy="732.7" r="6.1" fill="#000"/>
<circle cx="313.8" cy="735.0" r="6.1" fill="#000"/>
<circle cx="293.3" cy="736.8" r="6.1" fill="#000"/>
<circle cx="272.9" cy="737.9" r="6.1" fill="#000"/>
<circle cx="252.7" cy="738.6" r="6.1" fill="#000"/>
<circle cx="232.7" cy="739.1" r="6.1" fill="#000"/>
<circle cx="212.8" cy="739.8" r="6.1" fill="#000"/>
<circle cx="193.0" cy="740.2" r="6.1" fill="#000"/>
<circle cx="173.4" cy="740.5" r="6.1" fill="#000"/>
</g>
<path d="M505.3 678V724" stroke="#00002e" stroke-width="3.2" stroke-dasharray="9 9" fill="none"/>
<text x="524.6" y="702.6" font-size="49.6">1.876eV</text>
<circle cx="237.7" cy="75.5" r="11" fill="url(#gPinkL)"/>
<text x="298.3" y="88.9" font-size="42">CsPbI<tspan font-size="27" dy="12" dx="0.2">3</tspan></text>
<rect x="190" y="113.9" width="96" height="46.6" fill="#e9e6eb"/><rect x="190" y="113.9" width="96" height="46.6" fill="url(#hG)"/>
<rect x="190.5" y="167.3" width="95" height="46" fill="#e08282" stroke="#c9585c" stroke-width="1"/><rect x="190" y="167.0" width="96" height="46.6" fill="url(#hR)"/>
<path d="M190 244.2H287.2" stroke="#000" stroke-width="4.2"/>
<text x="298.3" y="152.5" font-size="42">Con</text>
<text x="298.3" y="204.8" font-size="42">Exc</text>
<text x="298.3" y="257.6" font-size="42">Fit</text>
<circle cx="237.7" cy="435.5" r="11" fill="url(#gBlueL)"/>
<text x="298.3" y="448.9" font-size="42">CsPbI<tspan font-size="27" dy="12" dx="0.2">3</tspan><tspan dy="-12">-PCBA</tspan></text>
<rect x="190" y="473.9" width="96" height="46.6" fill="#e9e6eb"/><rect x="190" y="473.9" width="96" height="46.6" fill="url(#hG)"/>
<rect x="190.5" y="527.3" width="95" height="46" fill="#7eb2e8" stroke="#6d98d8" stroke-width="1"/><rect x="190" y="527.0" width="96" height="46.6" fill="url(#hB)"/>
<path d="M190 604.2H287.2" stroke="#000" stroke-width="4.2"/>
<text x="298.3" y="512.5" font-size="42">Con</text>
<text x="298.3" y="564.8" font-size="42">Exc</text>
<text x="298.3" y="617.6" font-size="42">Fit</text>
<g stroke="#000" fill="none">
<rect x="176.8" y="28.0" width="716.0" height="718.7" stroke-width="4.9"/>
<path d="M176.8 386.5H892.8" stroke-width="3.8"/>
<path d="M165 70.5H176.8M165 175.8H176.8M165 280.6H176.8M165 431.0H176.8M165 536.0H176.8M165 641.0H176.8M165 746.7H176.8M170.5 123.2H176.8M170.5 228.2H176.8M170.5 333.2H176.8M170.5 483.5H176.8M170.5 588.5H176.8M170.5 693.8H176.8M270.5 746.7V757.5M580.0 746.7V757.5M892.8 746.7V757.5M425.3 746.7V753M737.4 746.7V753" stroke-width="4.2"/>
</g>
<text x="156.8" y="85.3" font-size="50" text-anchor="end">0.15</text>
<text x="156.8" y="190.6" font-size="50" text-anchor="end">0.10</text>
<text x="156.8" y="295.4" font-size="50" text-anchor="end">0.05</text>
<text x="156.8" y="445.8" font-size="50" text-anchor="end">0.15</text>
<text x="156.8" y="550.8" font-size="50" text-anchor="end">0.10</text>
<text x="156.8" y="655.8" font-size="50" text-anchor="end">0.05</text>
<text x="156.8" y="761.5" font-size="50" text-anchor="end">0.00</text>
<text x="271.5" y="805.6" font-size="50" text-anchor="middle">1.8</text>
<text x="581.3" y="805.6" font-size="50" text-anchor="middle">1.9</text>
<text x="892.6" y="805.6" font-size="50" text-anchor="middle">2.0</text>
<text x="535" y="870.9" font-size="50.6" text-anchor="middle">Energy (eV)</text>
<text transform="translate(47.6 445.6) rotate(-90)" font-size="51" text-anchor="middle">ABS (a.u.)</text>
<text x="12.5" y="60.8" font-size="64.5">a</text>
<text x="952" y="61.3" font-size="66.5">b</text>
<path d="M1164.6 723.4L1626.9 71.2" stroke="#dc2a40" stroke-width="2.6" fill="none"/>
<path d="M1419.6 635.3L1721.6 99.4" stroke="#0a24d8" stroke-width="2.6" fill="none"/>
<circle cx="1175.2" cy="690.0" r="13" fill="url(#gRedB)"/>
<circle cx="1194.7" cy="678.3" r="13" fill="url(#gRedB)"/>
<circle cx="1233.5" cy="618.8" r="13" fill="url(#gRedB)"/>
<circle cx="1295.2" cy="537.1" r="13" fill="url(#gRedB)"/>
<circle cx="1340.4" cy="474.1" r="13" fill="url(#gRedB)"/>
<circle cx="1368.1" cy="431.0" r="13" fill="url(#gRedB)"/>
<circle cx="1430.6" cy="353.9" r="13" fill="url(#gRedB)"/>
<circle cx="1475.7" cy="277.0" r="13" fill="url(#gRedB)"/>
<circle cx="1508.6" cy="233.4" r="13" fill="url(#gRedB)"/>
<circle cx="1531.0" cy="206.4" r="13" fill="url(#gRedB)"/>
<circle cx="1555.2" cy="171.8" r="13" fill="url(#gRedB)"/>
<circle cx="1570.5" cy="164.0" r="13" fill="url(#gRedB)"/>
<circle cx="1586.2" cy="123.6" r="13" fill="url(#gRedB)"/>
<circle cx="1598.7" cy="102.9" r="13" fill="url(#gRedB)"/>
<circle cx="1620.3" cy="86.4" r="13" fill="url(#gRedB)"/>
<circle cx="1430.6" cy="602.2" r="13" fill="url(#gBluB)"/>
<circle cx="1475.7" cy="553.6" r="13" fill="url(#gBluB)"/>
<circle cx="1508.6" cy="495.7" r="13" fill="url(#gBluB)"/>
<circle cx="1530.5" cy="441.2" r="13" fill="url(#gBluB)"/>
<circle cx="1555.6" cy="397.6" r="13" fill="url(#gBluB)"/>
<circle cx="1569.3" cy="372.3" r="13" fill="url(#gBluB)"/>
<circle cx="1586.4" cy="328.0" r="13" fill="url(#gBluB)"/>
<circle cx="1619.8" cy="275.4" r="13" fill="url(#gBluB)"/>
<circle cx="1640.5" cy="252.3" r="13" fill="url(#gBluB)"/>
<circle cx="1661.0" cy="216.5" r="13" fill="url(#gBluB)"/>
<circle cx="1679.3" cy="163.6" r="13" fill="url(#gBluB)"/>
<circle cx="1693.0" cy="134.2" r="13" fill="url(#gBluB)"/>
<circle cx="1705.2" cy="114.7" r="13" fill="url(#gBluB)"/>
<circle cx="1713.0" cy="110.4" r="13" fill="url(#gBluB)"/>
<circle cx="1162.4" cy="70.5" r="13.2" fill="url(#gRedB)"/>
<circle cx="1162.4" cy="130" r="13.2" fill="url(#gBluB)"/>
<text x="1219.7" y="83.5" font-size="41.3">CsPbI<tspan font-size="27" dy="12" dx="0.4">3</tspan></text>
<text x="1219.7" y="143.3" font-size="41.2">CsPbI<tspan font-size="27" dy="12" dx="0.4">3</tspan><tspan dy="-12">-[SAM]C60</tspan></text>
<g stroke="#000" fill="none">
<rect x="1092.4" y="24.2" width="728.8" height="726.8" stroke-width="4.6"/>
<path d="M1117.7 751.0V757M1147.2 751.0V757M1168.2 751.0V757M1184.4 751.0V757M1197.7 751.0V757M1208.9 751.0V757M1218.6 751.0V757M1227.2 751.0V757M1234.9 751.0V761.5M1285.4 751.0V757M1314.9 751.0V757M1335.9 751.0V757M1352.1 751.0V757M1365.4 751.0V757M1376.6 751.0V757M1386.3 751.0V757M1394.9 751.0V757M1402.6 751.0V761.5M1453.1 751.0V757M1482.6 751.0V757M1503.6 751.0V757M1519.8 751.0V757M1533.1 751.0V757M1544.3 751.0V757M1554.0 751.0V757M1562.6 751.0V757M1570.3 751.0V761.5M1620.8 751.0V757M1650.3 751.0V757M1671.3 751.0V757M1687.5 751.0V757M1700.8 751.0V757M1712.0 751.0V757M1721.7 751.0V757M1730.3 751.0V757M1738.0 751.0V761.5M1788.5 751.0V757M1818.0 751.0V757M1086.5 726.8H1092.4M1086.5 705.7H1092.4M1086.5 687.8H1092.4M1086.5 672.4H1092.4M1086.5 658.7H1092.4M1081 646.5H1092.4M1086.5 566.2H1092.4M1086.5 519.2H1092.4M1086.5 485.9H1092.4M1086.5 460.0H1092.4M1086.5 438.9H1092.4M1086.5 421.1H1092.4M1086.5 405.6H1092.4M1086.5 392.0H1092.4M1081 379.8H1092.4M1086.5 299.5H1092.4M1086.5 252.5H1092.4M1086.5 219.2H1092.4M1086.5 193.3H1092.4M1086.5 172.2H1092.4M1086.5 154.3H1092.4M1086.5 138.9H1092.4M1086.5 125.2H1092.4M1081 113.0H1092.4M1086.5 32.7H1092.4" stroke-width="4"/>
</g>
<text x="1233.1" y="805" font-size="42.5" text-anchor="middle">10<tspan font-size="29" dy="-17.5">1</tspan></text>
<text x="1400.8" y="805" font-size="42.5" text-anchor="middle">10<tspan font-size="29" dy="-17.5">2</tspan></text>
<text x="1568.5" y="805" font-size="42.5" text-anchor="middle">10<tspan font-size="29" dy="-17.5">3</tspan></text>
<text x="1736.2" y="805" font-size="42.5" text-anchor="middle">10<tspan font-size="29" dy="-17.5">4</tspan></text>
<text x="1072.3" y="663.3" font-size="43.5" text-anchor="end">10<tspan font-size="29" dy="-18">1</tspan></text>
<text x="1072.3" y="396.6" font-size="43.5" text-anchor="end">10<tspan font-size="29" dy="-18">2</tspan></text>
<text x="1072.3" y="129.8" font-size="43.5" text-anchor="end">10<tspan font-size="29" dy="-18">3</tspan></text>
<text x="1225" y="869.3" font-size="43.2">Excition Intensity</text>
<text x="1635.6" y="869.3" font-size="43.2">W</text>
<text x="1598.6" y="869.3" font-size="33" font-family="'Liberation Serif', 'DejaVu Serif', serif">(</text>
<text x="1677.5" y="869.3" font-size="33" font-family="'Liberation Serif', 'DejaVu Serif', serif">)</text>
<text transform="translate(1611.1 869.3) scale(1.32 1.03)" font-size="34" font-weight="normal" stroke="#000" stroke-width="0.45" font-family="'Liberation Serif', 'DejaVu Serif', serif">μ</text>
<text transform="translate(990.8 385.3) rotate(-90)" font-size="43.5" text-anchor="middle">PL Intensity (a.u.)</text>
</svg>
</body></html>
